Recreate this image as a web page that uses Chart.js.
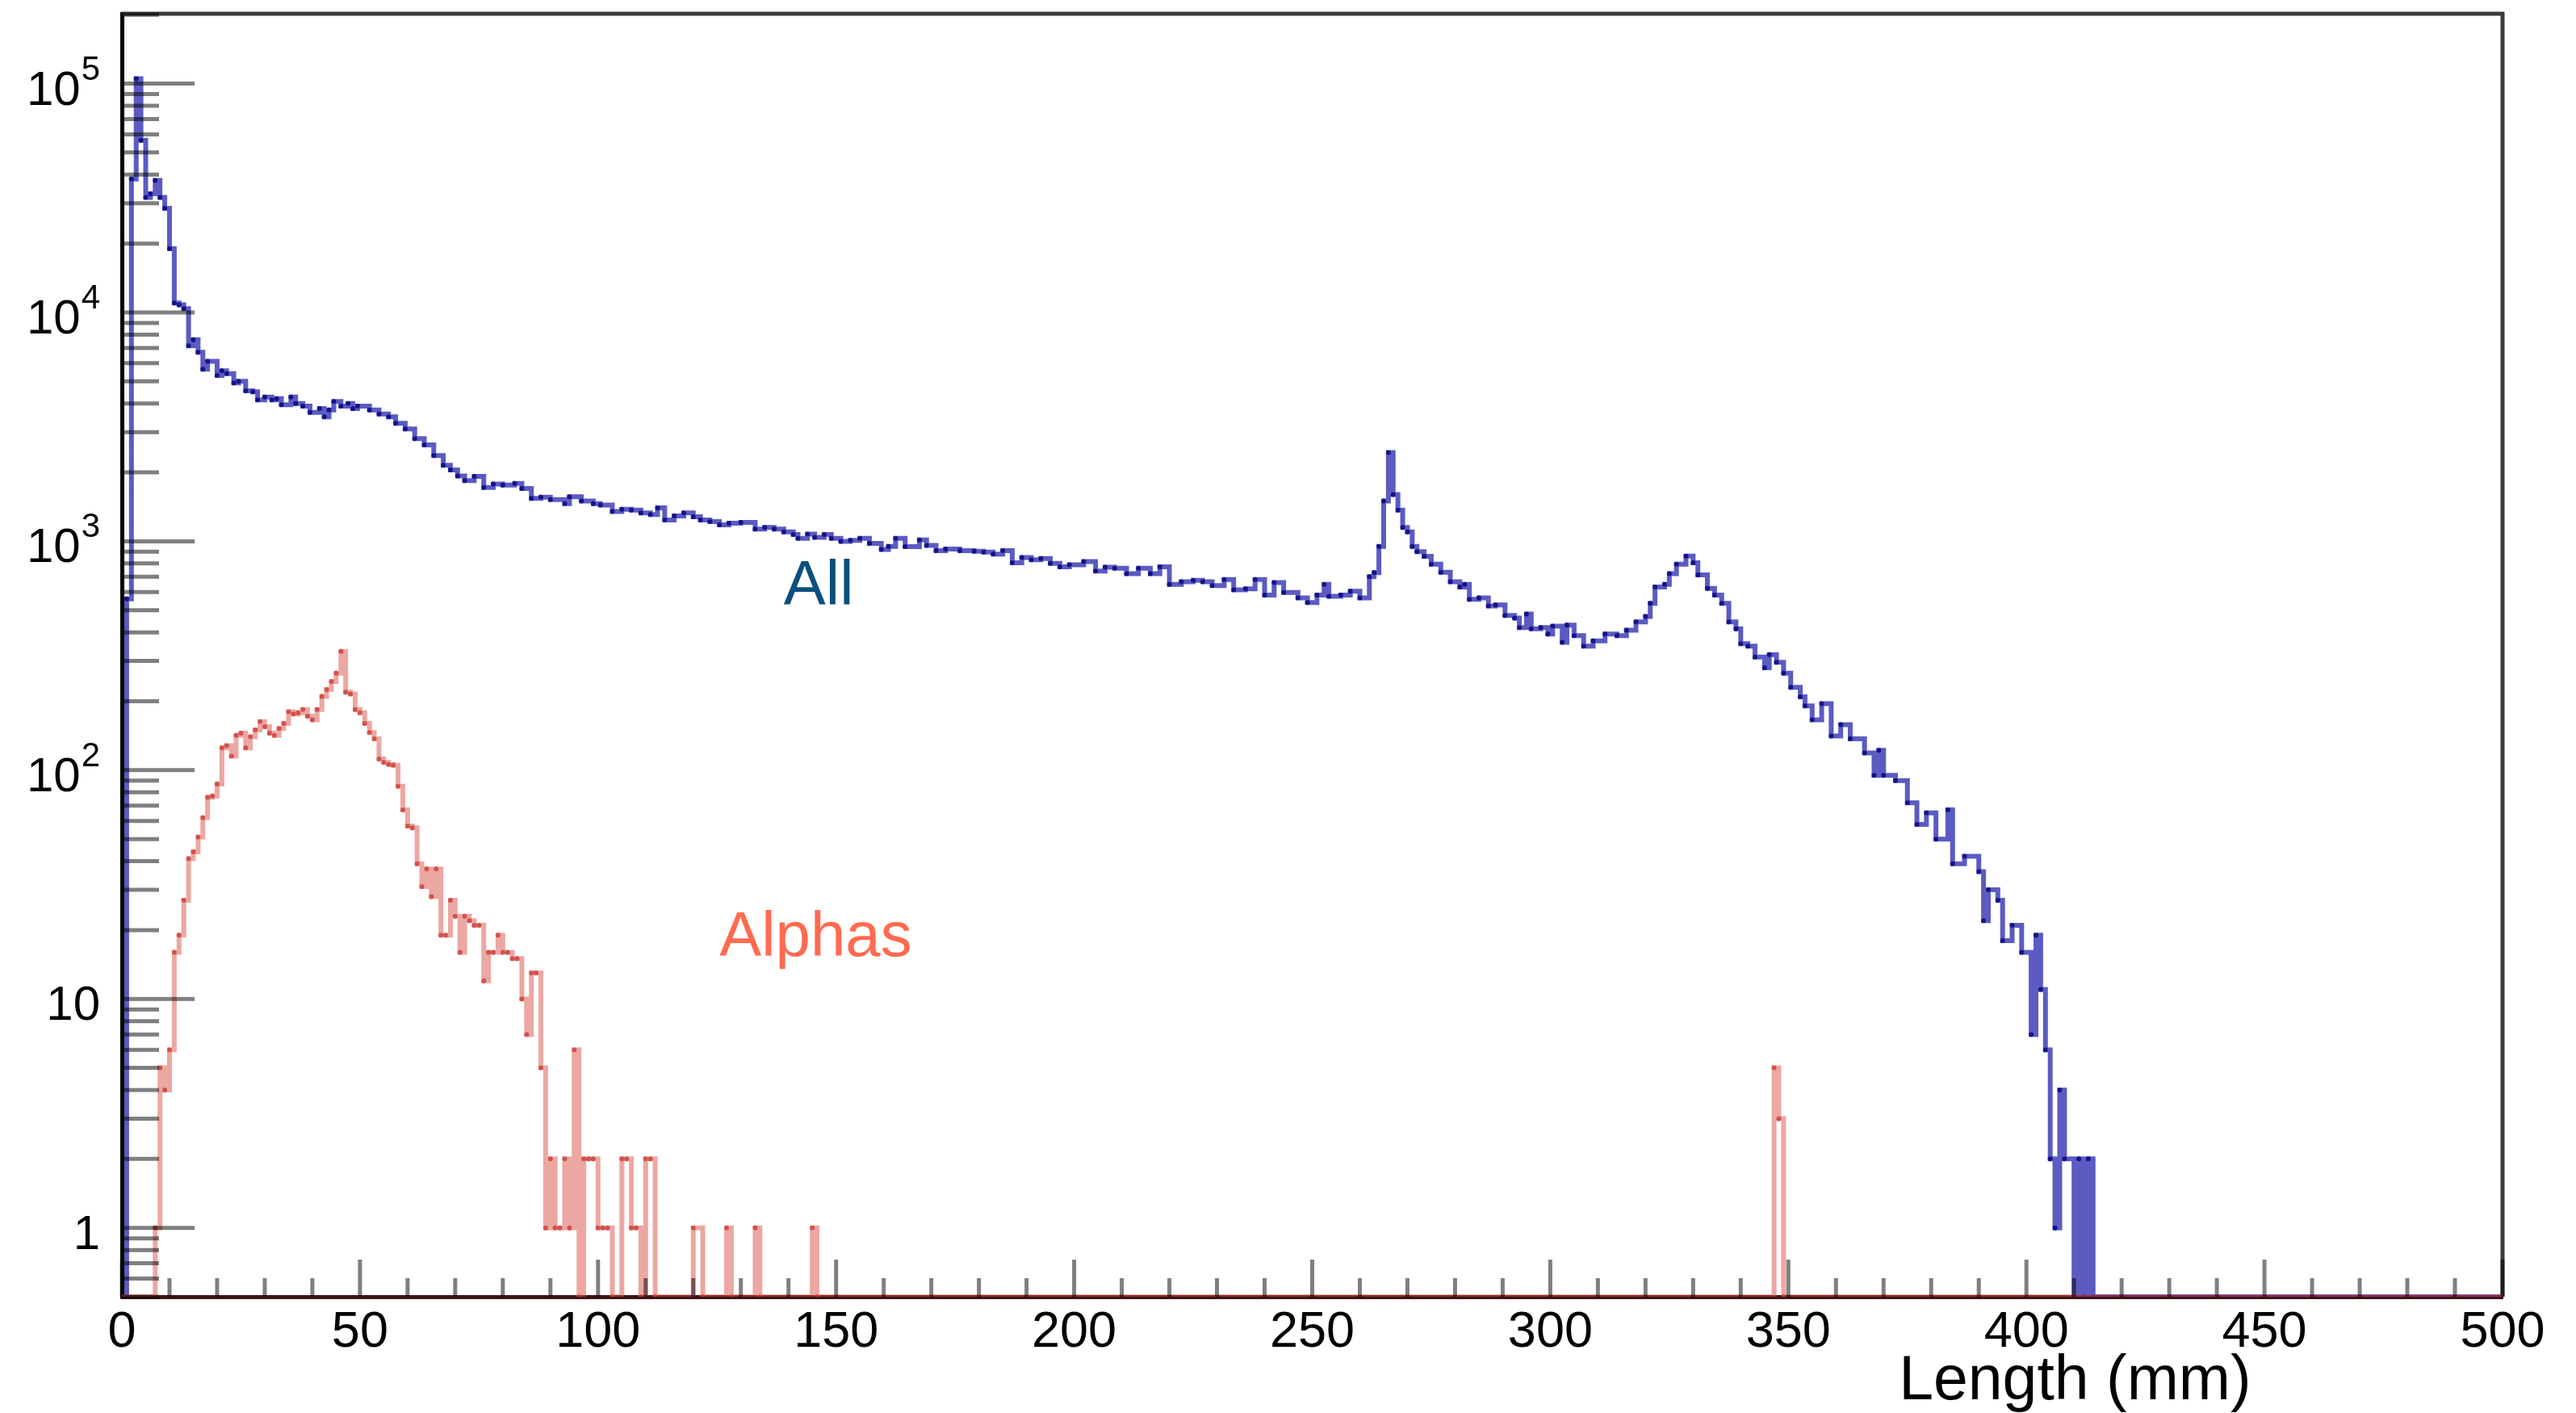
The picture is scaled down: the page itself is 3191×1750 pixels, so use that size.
<!DOCTYPE html>
<html>
<head>
<meta charset="utf-8">
<title>Length (mm)</title>
<script src="https://cdn.jsdelivr.net/npm/chart.js@4.4.0/dist/chart.umd.min.js"></script>
<style>
  html, body { margin: 0; padding: 0; background: #fff; overflow: hidden; }
  canvas { display: block; }
</style>
</head>
<body>
<canvas id="lengthChart" width="3191" height="1750"></canvas>
<script>
// histogram data: lower bin edge (mm) and counts, each count holds until the next edge
const allEdges = [
  0, 1, 2, 3, 4, 5, 6, 7, 8, 9,
  10, 11, 12, 13, 14, 15, 16, 17, 18, 20,
  21, 22, 23.5, 24.5, 26, 27.5, 28.5, 30, 31.5, 32.5,
  33.5, 35.5, 36.5, 38, 39.5, 41.5, 42.5, 43.5, 44.5, 46,
  47.5, 48.5, 49.5, 52, 54, 56, 57.5, 59.5, 61.5, 63.5,
  65.5, 67.5, 69, 70.5, 72, 74, 76, 78, 80, 82.5,
  84, 86, 88, 90, 93, 94, 96.5, 99, 100.5, 103,
  105, 107, 109, 111, 112.5, 114, 116, 118, 120, 121.5,
  123.5, 125.5, 127.5, 130, 133, 135, 137, 139, 141, 142,
  144, 145.5, 147.5, 149, 151, 153, 155, 157, 159.5, 161,
  162.5, 164.5, 167.5, 169, 171, 173, 176, 179, 181, 183,
  185, 187, 189, 191, 193, 195, 197, 199, 202, 204.5,
  206.5, 208.5, 211, 213.5, 216, 218, 220, 222.5, 225, 227,
  229, 231.5, 233.5, 236, 238, 240, 242, 244, 247, 249,
  251, 252.5, 253.5, 256, 258, 260, 262, 263, 264, 265,
  266, 267, 268, 269, 270, 271, 272, 273.5, 275, 277,
  279, 281, 282, 283, 285, 287, 288.5, 290.5, 292.5, 293.5,
  295, 296, 298, 299.5, 300.5, 302.5, 303.5, 305, 307, 309,
  311.5, 314, 316, 318, 320, 321, 322, 324, 325, 326.5,
  328.5, 330, 331, 333, 334.5, 336, 337.5, 339, 340, 341.5,
  343, 345, 346, 347.5, 349, 350.5, 352.5, 353.5, 355, 357,
  359, 361, 363, 366, 368, 369, 370, 372.5, 375, 377,
  379, 381, 383.5, 384.5, 387, 390, 391, 392, 394, 395,
  397, 399, 401, 402, 403, 404, 405, 406, 407, 408,
  410, 411, 412, 413, 414, 500
];
const allCounts = [
  0, 560, 38300, 105000, 56500, 31800, 33000, 37700, 31800, 28500,
  19000, 11000, 10800, 10400, 7150, 7600, 6700, 5650, 6120, 5310,
  5560, 5400, 4920, 5000, 4550, 4500, 4150, 4270, 4150, 4200,
  3950, 4270, 4000, 3900, 3660, 3800, 3500, 3750, 4080, 3900,
  4000, 3800, 3900, 3750, 3600, 3500, 3280, 3100, 2810, 2640,
  2370, 2150, 2050, 1930, 1840, 1920, 1720, 1780, 1760, 1790,
  1700, 1540, 1560, 1520, 1460, 1565, 1500, 1460, 1440, 1350,
  1380, 1370, 1330, 1310, 1400, 1240, 1290, 1330, 1280, 1240,
  1220, 1180, 1200, 1210, 1130, 1150, 1130, 1100, 1070, 1030,
  1075, 1040, 1070, 1030, 1000, 1010, 1030, 980, 922, 950,
  1030, 947, 1014, 960, 910, 925, 910, 905, 897, 880,
  910, 805, 850, 830, 840, 800, 773, 790, 816, 742,
  770, 763, 722, 763, 722, 773, 648, 666, 675, 666,
  640, 680, 614, 620, 680, 582, 660, 598, 566, 540,
  582, 648, 575, 582, 605, 566, 700, 730, 950, 1500,
  2440, 1600, 1370, 1150, 1100, 950, 900, 860, 795, 732,
  666, 631, 648, 558, 566, 522, 527, 474, 462, 420,
  481, 415, 420, 393, 426, 362, 430, 387, 348, 367,
  393, 387, 409, 444, 469, 536, 631, 648, 722, 795,
  861, 805, 713, 622, 582, 536, 444, 415, 357, 348,
  312, 280, 320, 296, 265, 230, 209, 191, 166, 195,
  141, 158, 137, 119, 95, 122, 95, 90, 72, 58,
  65, 50, 67, 39, 42, 36, 22, 30, 27, 18,
  21, 16, 7, 19, 11, 6, 2, 1, 4, 2,
  0, 2, 0, 2, 0, 0
];

const alphaEdges = [
  0, 7, 8, 9, 10, 11, 12, 13, 14, 15,
  16, 17, 18, 19, 20, 21, 22, 23, 24, 25,
  26, 27, 28, 29, 30, 31, 32, 33, 34, 35,
  36, 37, 38, 39, 40, 41, 42, 43, 44, 45,
  46, 47, 48, 49, 50, 51, 52, 53, 54, 55,
  56, 57, 58, 59, 60, 61, 62, 63, 64, 65,
  66, 67, 68, 69, 70, 71, 72, 73, 74, 75,
  76, 77, 78, 79, 80, 81, 82, 83, 84, 85,
  86, 87, 88, 89, 90, 91, 92, 93, 94, 95,
  96, 97, 98, 99, 100, 101, 102, 103, 105, 106,
  107, 108, 109, 110, 111, 112, 120, 122, 127, 128,
  133, 134, 145, 146, 347, 348, 349, 500
];
const alphaCounts = [
  0, 1, 5, 4, 6, 16, 19, 27, 41, 44,
  51, 62, 76, 77, 87, 125, 128, 115, 142, 145,
  125, 140, 150, 163, 155, 145, 142, 152, 160, 180,
  176, 178, 184, 172, 166, 184, 210, 225, 244, 265,
  330, 219, 215, 184, 178, 160, 146, 137, 112, 108,
  106, 105, 85, 67, 57, 56, 39, 31, 37, 28,
  37, 19, 19, 27, 23, 16, 23, 22, 21, 21,
  12, 16, 16, 19, 16, 16, 15, 15, 10, 7,
  13, 13, 5, 1, 2, 1, 1, 2, 1, 6,
  0, 2, 2, 2, 1, 1, 1, 0, 2, 2,
  1, 1, 0, 2, 2, 0, 1, 0, 1, 0,
  1, 0, 1, 0, 5, 3, 0, 0
];

const xTickLabels = [0, 50, 100, 150, 200, 250, 300, 350, 400, 450, 500];
const yDecades = [1, 10, 100, 1000, 10000, 100000];

const X_MIN = 0, X_MAX = 500;
const Y_MIN = 0.5, Y_MAX = 2.02e5;
const FONT = '"Liberation Sans", Arial, Helvetica, sans-serif';

// empty bins sit on the axis in a log plot
function histPoints(edges, counts) {
  return edges.map((x, i) => ({ x: x, y: Math.max(counts[i], Y_MIN) }));
}

const rootStyle = {
  id: 'rootStyle',
  beforeDatasetsDraw(chart) {
    const { ctx, chartArea: a } = chart;
    ctx.save();
    ctx.strokeStyle = '#3a3a3a';
    ctx.lineWidth = 5;
    ctx.beginPath();
    ctx.moveTo(a.left, a.top);
    ctx.lineTo(a.right, a.top);
    ctx.lineTo(a.right, a.bottom);
    ctx.stroke();
    ctx.restore();
  },
  afterDatasetsDraw(chart) {
    const { ctx, chartArea: a, scales: { x, y } } = chart;
    ctx.save();
    ctx.strokeStyle = 'rgba(0,0,0,0.5)';
    ctx.lineWidth = 5;
    ctx.beginPath();
    // x ticks point up into the frame
    for (let v = X_MIN; v <= X_MAX; v += 10) {
      const px = x.getPixelForValue(v);
      const len = v % 50 === 0 ? 46 : 23;
      ctx.moveTo(px, a.bottom);
      ctx.lineTo(px, a.bottom - len);
    }
    // log y ticks point right into the frame
    for (let e = -1; e <= 5; e++) {
      for (let k = 1; k <= 9; k++) {
        const v = k * Math.pow(10, e);
        if (v < Y_MIN * 0.999 || v > Y_MAX * 1.001) continue;
        const py = y.getPixelForValue(v);
        const len = k === 1 ? 90 : 46;
        ctx.moveTo(a.left, py);
        ctx.lineTo(a.left + len, py);
      }
    }
    ctx.stroke();
    ctx.restore();
  },
  afterDraw(chart) {
    const { ctx, chartArea: a, scales: { x, y } } = chart;
    ctx.save();
    ctx.fillStyle = '#000';
    ctx.textBaseline = 'alphabetic';

    // y labels, 10^n with raised exponent
    const rx = a.left - 27;
    yDecades.forEach(d => {
      const e = Math.round(Math.log10(d));
      const base = y.getPixelForValue(d) + 26;
      ctx.textAlign = 'right';
      if (e < 2) {
        ctx.font = '60px ' + FONT;
        ctx.fillText(String(d), rx, base);
      } else {
        ctx.font = '42px ' + FONT;
        const sup = String(e);
        ctx.fillText(sup, rx, base - 31);
        const w = ctx.measureText(sup).width;
        ctx.font = '60px ' + FONT;
        ctx.fillText('10', rx - w - 1, base);
      }
    });

    // axis title
    ctx.textAlign = 'left';
    ctx.font = '77px ' + FONT;
    ctx.fillText('Length (mm)', x.getPixelForValue(373.2), a.bottom + 127);

    // curve labels
    ctx.font = '78px ' + FONT;
    ctx.fillStyle = '#0b4f7e';
    ctx.fillText('All', x.getPixelForValue(139), y.getPixelForValue(530));
    ctx.fillStyle = '#ff6a50';
    ctx.fillText('Alphas', x.getPixelForValue(125.5), y.getPixelForValue(15.4));
    ctx.restore();
  }
};

const ctx = document.getElementById('lengthChart').getContext('2d');

const lengthChart = new Chart(ctx, {
  type: 'line',
  data: {
    datasets: [
      {
        label: 'All',
        data: histPoints(allEdges, allCounts),
        stepped: 'before',
        borderColor: 'rgba(28,28,170,0.72)',
        borderWidth: 6,
        pointRadius: 3,
        pointBorderWidth: 0,
        pointBackgroundColor: '#141488',
        fill: false,
        order: 2
      },
      {
        label: 'Alphas',
        data: histPoints(alphaEdges, alphaCounts),
        stepped: 'before',
        borderColor: 'rgba(218,80,70,0.5)',
        borderWidth: 6,
        pointRadius: 3,
        pointBorderWidth: 0,
        pointBackgroundColor: 'rgba(205,60,55,0.8)',
        fill: false,
        order: 1
      }
    ]
  },
  options: {
    responsive: false,
    devicePixelRatio: 1,
    animation: false,
    events: [],
    layout: { padding: { left: 0, top: 17, right: 91, bottom: 0 } },
    plugins: {
      legend: { display: false },
      tooltip: { enabled: false }
    },
    scales: {
      x: {
        type: 'linear',
        min: X_MIN,
        max: X_MAX,
        afterFit: s => { s.height = 144; },
        afterBuildTicks: s => { s.ticks = xTickLabels.map(v => ({ value: v })); },
        grid: { display: false, drawTicks: false },
        border: { display: true, color: '#3d1414', width: 5 },
        ticks: {
          padding: 7,
          maxRotation: 0,
          autoSkip: false,
          color: '#000',
          font: { family: FONT, size: 63 },
          callback: v => String(v)
        }
      },
      y: {
        type: 'logarithmic',
        min: Y_MIN,
        max: Y_MAX,
        afterFit: s => { s.width = 151; },
        afterBuildTicks: s => { s.ticks = yDecades.map(v => ({ value: v, major: true })); },
        grid: { display: false, drawTicks: false },
        border: { display: true, color: '#000', width: 5 },
        ticks: { display: false }
      }
    }
  },
  plugins: [rootStyle]
});
</script>
</body>
</html>
